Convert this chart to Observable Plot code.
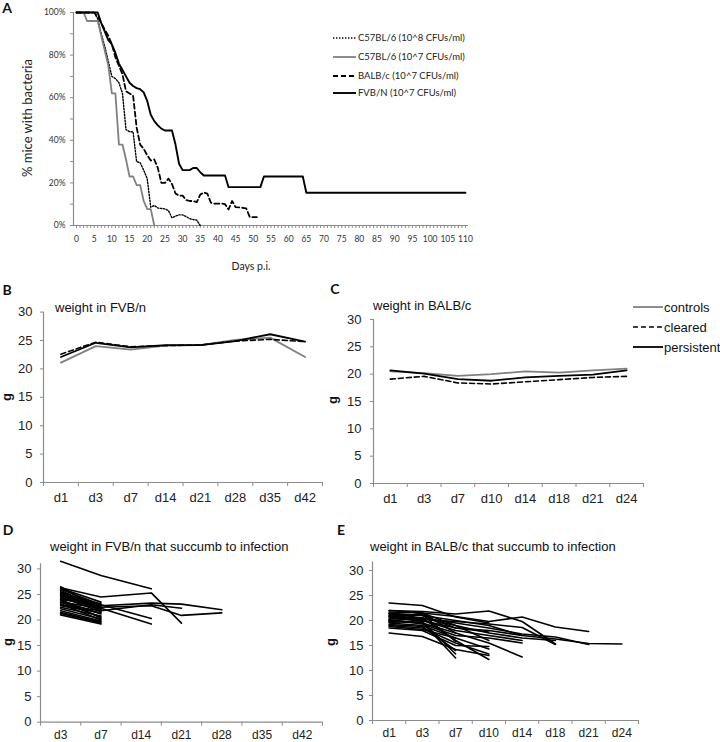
<!DOCTYPE html>
<html>
<head>
<meta charset="utf-8">
<script src="https://cdn.jsdelivr.net/npm/d3@7"></script>
<script src="https://cdn.jsdelivr.net/npm/@observablehq/plot@0.6"></script>
<style>
html,body{margin:0;padding:0;background:#fff;}
#root{position:relative;width:720px;height:742px;overflow:hidden;background:#fff;color:#111;font-family:"Liberation Sans",Arial,sans-serif;}
#root .t{position:absolute;white-space:nowrap;line-height:1;}
#root svg{overflow:visible;}
</style>
</head>
<body>
<div id="root"></div>
<script>
// ---------- Panel A: % mice with bacteria by day ----------
const aDaysC57hi = [0,5,6,7,8,9,10,11,12,13,14,15,16,17,18,19,20,21,22,23,24,25,26,27,28,29,30,31,32,33,34,35];
const aPctC57hi  = [100,100,97,90,84,77,70,69,67,62,45,44,44,30,29.5,26,22,8.6,9.4,8.2,8,7.8,7,3.6,4.4,5,5,4.2,3.2,2.8,2.5,0];
const aDaysC57lo = [0,2,3,6,7,8,9,10,11,12,13,14,15,16,17,18,19,20,21,22];
const aPctC57lo  = [100,100,96,96,89,82,75,62,62,38,38,31,23,23,19,19,11.5,7.7,7.7,0];
const aDaysBALB  = [0,5,6,7,8,9,10,11,12,13,14,15,16,17,18,19,20,21,22,23,24,25,26,27,28,29,30,31,32,33,34,35,36,37,38,39,40,41,42,43,44,45,46,47,48,49,50,51];
const aPctBALB   = [100,100,98,95,92,89,85,79,75,71,63,62,61,46,38,36,33,30.5,31,27,20,20,22,19.5,15,14,14,12,11.5,11.5,11,14.5,15.5,15,10.7,10.3,10.3,10.3,10,7.5,11.5,8.6,8.5,8.3,8,4,3.9,3.9];
const aDaysFVB   = [0,6,7,8,9,10,11,12,13,14,15,16,17,18,19,20,21,22,23,24,25,27,28,29,30,32,33,34,35,36,42,43,52,53,64,65,110];
const aPctFVB    = [100,100,95,91,87,85,81,76,73,70,67,65.5,64.5,64,62.5,58.5,52,49,47,45.5,44.6,44.6,38,29,26,26,27,27,25,23.5,23.5,18,18,23,23,15.4,15.4];
const aLegend = ["C57BL/6 (10^8 CFUs/ml)","C57BL/6 (10^7 CFUs/ml)","BALB/c (10^7 CFUs/ml)","FVB/N  (10^7 CFUs/ml)"];

// ---------- Panel B: weight in FVB/n ----------
const bCats = ["d1","d3","d7","d14","d21","d28","d35","d42"];
const bControls   = [21.1,24.0,23.4,24.1,24.2,25.1,25.5,22.1];
const bCleared    = [22.6,24.7,23.9,24.1,24.2,24.9,25.2,24.8];
const bPersistent = [22.1,24.6,23.8,24.2,24.2,24.9,26.1,24.8];

// ---------- Panel C: weight in BALB/c ----------
const cCats = ["d1","d3","d7","d10","d14","d18","d21","d24"];
const cControls   = [20.5,20.2,19.7,20.0,20.5,20.3,20.7,21.0];
const cCleared    = [19.1,19.6,18.4,18.2,18.6,19.0,19.4,19.6];
const cPersistent = [20.7,20.1,19.1,18.8,19.4,19.7,19.9,20.7];
const cLegend = ["controls","cleared","persistent"];

// ---------- Panel D: FVB/n that succumb (each row = one mouse) ----------
const dCats = ["d3","d7","d14","d21","d28","d35","d42"];
const dLinePos = [
  [0,1,2.25],[0,1,2.25,3],[0,1,2.25,3,4],[0,1,2.25,3,4],[0,1,2.25,3],[0,1,2.25],[0,1,2.25],
  [0,1],[0,1],[0,1],[0,1],[0,1],[0,1],[0,1],[0,1],[0,1],[0,1],[0,1],[0,1],[0,1],[0,1],[0,1],[0,1],[0,1],[0,1],[0,1],[0,1],[0,1]
];
const dLineVals = [
  [31.5,28.7,26.1],[26.3,24.5,25.3,19.4],[25.5,22.8,23.3,23.1,22.0],[24.8,22.5,22.8,20.9,21.4],[23.0,21.8,23.0,22.3],[24.0,23.0,20.3],[23.5,22.3,19.2],
  [26.5,22.0],[26.2,23.5],[26.0,23.0],[25.8,22.2],[25.5,21.8],[25.2,23.2],[25.0,22.6],[24.7,22.0],[24.5,21.6],[24.2,22.4],[24.0,20.4],[23.8,21.2],[23.5,20.6],[23.2,20.0],[22.8,21.4],[22.5,20.8],[22.2,20.2],[21.8,19.8],[21.5,19.6],[21.3,19.4],[21.0,19.2]
];

// ---------- Panel E: BALB/c that succumb (each row = one mouse, from d1) ----------
const eCats = ["d1","d3","d7","d10","d14","d18","d21","d24"];
const eLineVals = [
  [23.5,23.0,20.7,19.5],
  [22.0,21.8,21.3,21.9,19.8,15.3],
  [21.7,21.5,20.8,19.8,20.7,18.7,17.8],
  [21.2,21.0,20.0,19.0,17.0,16.3,15.4,15.3],
  [20.8,20.5,19.5,18.5,17.3,16.7,15.2],
  [20.5,20.2,19.8,19.3,18.6,15.2],
  [21.0,20.0,18.0,17.0,16.0],
  [19.8,19.5,17.5,15.5,12.7],
  [20.2,19.3,17.0,16.5,15.5],
  [19.5,19.0,16.5,14.3],
  [19.0,18.5,15.5,13.3],
  [20.0,20.5,16.0,12.2],
  [18.5,18.0,15.0,14.8],
  [21.5,21.0,18.5,17.7],
  [20.7,19.8,13.3],
  [20.0,19.6,12.5],
  [19.2,18.8,14.0],
  [17.5,16.8,14.2,13.0],
  [22.0,21.5,17.5],
  [18.8,18.2,16.5],
  [20.3,21.5,19.0,17.5,16.5,16.0],
  [19.6,20.0,18.5,18.0,17.0],
  [21.4,20.5,19.0,16.0],
  [20.9,21.2,15.8]
];

// ---------- helpers ----------
const root = document.getElementById("root");
function place(el, left, top) {
  el.style.position = "absolute";
  el.style.left = left + "px";
  el.style.top = top + "px";
  root.appendChild(el);
  return el;
}
function text(str, x, y, css, anchor) {
  const d = document.createElement("div");
  d.className = "t";
  d.textContent = str;
  Object.assign(d.style, css || {});
  d.style.left = x + "px";
  d.style.top = y + "px";
  d.style.transform = anchor === "middle" ? "translate(-50%,-50%)" : "translate(0,-50%)";
  root.appendChild(d);
  return d;
}
function rotText(str, x, y, css) {
  const d = document.createElement("div");
  d.className = "t";
  d.textContent = str;
  Object.assign(d.style, css || {});
  d.style.left = x + "px";
  d.style.top = y + "px";
  d.style.transform = "translate(-50%,-50%) rotate(-90deg)";
  root.appendChild(d);
  return d;
}
function legendLine(x1, x2, y, stroke, width, dash) {
  const ns = "http://www.w3.org/2000/svg";
  const s = document.createElementNS(ns, "svg");
  s.setAttribute("width", x2 - x1);
  s.setAttribute("height", 8);
  const l = document.createElementNS(ns, "line");
  l.setAttribute("x1", 0); l.setAttribute("x2", x2 - x1);
  l.setAttribute("y1", 4); l.setAttribute("y2", 4);
  l.setAttribute("stroke", stroke);
  l.setAttribute("stroke-width", width);
  if (dash) l.setAttribute("stroke-dasharray", dash);
  s.appendChild(l);
  place(s, x1, y - 4);
}
const zip = (xs, ys) => xs.map((x, i) => ({x, y: ys[i]}));
const AX = "#8c8c8c";

// ---------- Panel A ----------
const aStyles = [
  {days: aDaysC57hi, pct: aPctC57hi, stroke: "#000", w: 1.4, dash: "1.4,1.6"},
  {days: aDaysC57lo, pct: aPctC57lo, stroke: "#808080", w: 1.8, dash: null},
  {days: aDaysBALB,  pct: aPctBALB,  stroke: "#000", w: 1.8, dash: "5,3"},
  {days: aDaysFVB,   pct: aPctFVB,   stroke: "#000", w: 1.9, dash: null}
];
const plotA = Plot.plot({
  width: 480, height: 275,
  marginLeft: 73, marginRight: 12, marginTop: 12, marginBottom: 50,
  x: {domain: [-0.85, 110.86]},
  y: {domain: [0, 100]},
  style: {fontFamily: "Lato, 'Open Sans', sans-serif", fontSize: "8.5px", color: "#333", background: "transparent"},
  marks: [
    Plot.axisY({ticks: d3.range(0, 101, 10), tickSize: 3, tickFormat: () => "", stroke: AX, label: null}),
    Plot.axisY({ticks: d3.range(0, 101, 20), tickSize: 0, tickPadding: 8, tickFormat: d => d + "%", label: null}),
    Plot.axisX({ticks: d3.range(0, 111), tickSize: 3, tickFormat: () => "", stroke: AX, label: null}),
    Plot.axisX({ticks: d3.range(0, 111, 5), tickSize: 0, tickPadding: 10, tickFormat: d => String(d), label: null}),
    Plot.ruleY([0], {stroke: AX, strokeWidth: 1.2}),
    Plot.ruleX([-0.85], {stroke: AX, strokeWidth: 1.2}),
    ...aStyles.map(s => Plot.line(zip(s.days, s.pct), {x: "x", y: "y", stroke: s.stroke, strokeWidth: s.w, strokeDasharray: s.dash || undefined}))
  ]
});
place(plotA, 0, 0);
const latoT = {fontFamily: "Lato, 'Open Sans', sans-serif", color: "#222"};
rotText("% mice with  bacteria", 27, 118, Object.assign({fontSize: "13px"}, latoT));
text("Days p.i.", 251, 266, Object.assign({fontSize: "10.5px"}, latoT), "middle");
const aLegY = [38, 57, 76, 93];
aStyles.forEach((s, i) => {
  legendLine(333, 356, aLegY[i], s.stroke, s.w, s.dash);
  text(aLegend[i], 358, aLegY[i], Object.assign({fontSize: "9.5px"}, latoT));
});

// ---------- weight panel builder ----------
function weightPlot(o) {
  return Plot.plot({
    width: o.width, height: o.height,
    marginLeft: o.ml, marginRight: o.mr, marginTop: o.mt, marginBottom: o.mb,
    x: {domain: [-0.5, o.cats.length - 0.5]},
    y: {domain: [0, o.ymax]},
    style: {fontFamily: "'Liberation Sans', Arial, sans-serif", fontSize: "13px", color: "#222", background: "transparent"},
    marks: [
      Plot.axisY({ticks: d3.range(0, 31, 5), tickSize: 3, tickPadding: o.ypad, stroke: AX, label: null}),
      Plot.axisX({ticks: d3.range(-0.5, o.cats.length, 1), tickSize: 4, tickFormat: () => "", stroke: AX, label: null}),
      Plot.axisX({ticks: d3.range(0, o.cats.length), tickSize: 0, tickPadding: o.xpad, fontSize: o.xfont, tickFormat: i => o.cats[i], label: null}),
      Plot.ruleY([0], {stroke: AX, strokeWidth: 1.2}),
      Plot.ruleX([-0.5], {stroke: AX, strokeWidth: 1.2}),
      ...o.lines
    ]
  });
}
const idx = arr => arr.map((v, i) => ({x: i, y: v}));
const trio = (ctl, clr, per) => [
  Plot.line(idx(ctl), {x: "x", y: "y", stroke: "#808080", strokeWidth: 1.8}),
  Plot.line(idx(clr), {x: "x", y: "y", stroke: "#000", strokeWidth: 1.6, strokeDasharray: "5,3"}),
  Plot.line(idx(per), {x: "x", y: "y", stroke: "#000", strokeWidth: 1.8})
];

// Panel B
place(weightPlot({width: 345, height: 215, ml: 43, mr: 23, mt: 11.6, mb: 33, ymax: 30, ypad: 8, xpad: 10, xfont: 13, cats: bCats,
  lines: trio(bControls, bCleared, bPersistent)}), 0, 300);
// Panel C
place(weightPlot({width: 300, height: 215, ml: 28, mr: 2, mt: 19, mb: 32, ymax: 30, ypad: 9, xpad: 10, xfont: 13, cats: cCats,
  lines: trio(cControls, cCleared, cPersistent)}), 345, 300);
// Panel D
const dRows = dLineVals.flatMap((vals, k) => vals.map((v, j) => ({id: k, x: dLinePos[k][j], y: v})));
place(weightPlot({width: 345, height: 202, ml: 40, mr: 23, mt: 23.3, mb: 20.3, ymax: 31, ypad: 6, xpad: 8, xfont: 12, cats: dCats,
  lines: [Plot.line(dRows, {x: "x", y: "y", z: "id", stroke: "#000", strokeWidth: 1.6})]}), 0, 540);
// Panel E
const eRows = eLineVals.flatMap((vals, k) => vals.map((v, j) => ({id: k, x: j, y: v})));
place(weightPlot({width: 300, height: 202, ml: 27, mr: 7, mt: 21.5, mb: 22, ymax: 31.7, ypad: 6, xpad: 8, xfont: 12, cats: eCats,
  lines: [Plot.line(eRows, {x: "x", y: "y", z: "id", stroke: "#000", strokeWidth: 1.6})]}), 345, 540);

// titles, letters, axis labels
const arial = {fontFamily: "'Liberation Sans', Arial, sans-serif", color: "#111"};
text("weight in FVB/n", 55, 307, Object.assign({fontSize: "13px"}, arial));
text("weight in BALB/c", 373, 305, Object.assign({fontSize: "13px"}, arial));
text("weight in FVB/n that succumb to infection", 50, 546, Object.assign({fontSize: "13px"}, arial));
text("weight in BALB/c that succumb to infection", 370, 546, Object.assign({fontSize: "13px"}, arial));
const gl = Object.assign({fontSize: "13px", fontWeight: "bold"}, arial);
rotText("g", 6, 397, gl);
rotText("g", 332, 400, gl);
rotText("g", 7, 642, gl);
rotText("g", 330, 642, gl);
const letter = {fontFamily: "Lato, 'Open Sans', sans-serif", fontWeight: "bold", fontSize: "14px", color: "#111"};
text("A", 7, 8, letter, "middle");
text("B", 7, 290, letter, "middle");
text("C", 335, 289, letter, "middle");
text("D", 8, 530, letter, "middle");
text("E", 341, 530, letter, "middle");

// Legend C
const cLegY = [307, 327, 347];
const cSty = [["#808080", 1.8, null], ["#000", 1.6, "5,3"], ["#000", 1.8, null]];
cLegend.forEach((lab, i) => {
  legendLine(633, 663, cLegY[i], cSty[i][0], cSty[i][1], cSty[i][2]);
  text(lab, 664, cLegY[i], Object.assign({fontSize: "13px"}, arial));
});
</script>
</body>
</html>
